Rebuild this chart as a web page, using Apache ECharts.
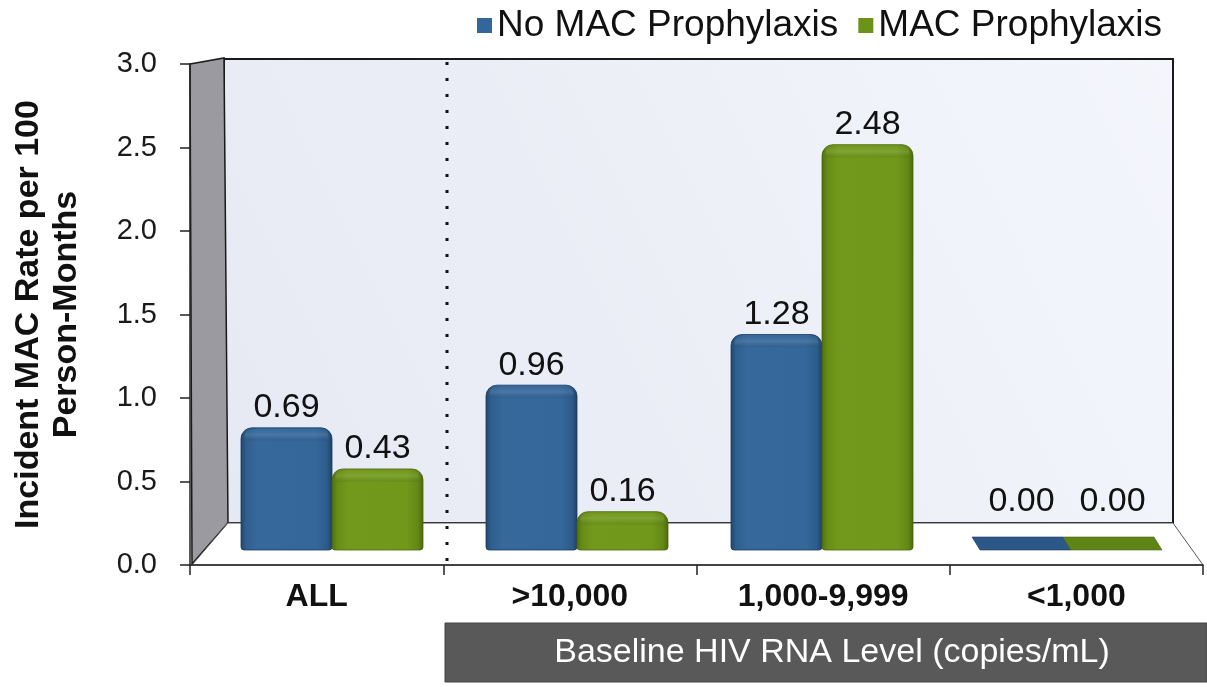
<!DOCTYPE html>
<html>
<head>
<meta charset="utf-8">
<script src="https://cdn.jsdelivr.net/npm/echarts@6/dist/echarts.min.js"></script>
<style>
html,body{margin:0;padding:0;background:#fff;}
#c{width:1207px;height:687px;}
</style>
</head>
<body>
<div id="c"></div>
<script>
const categories = ['ALL', '>10,000', '1,000-9,999', '<1,000'];
const seriesNames = ['No MAC Prophylaxis', 'MAC Prophylaxis'];
const noProphylaxis = [0.69, 0.96, 1.28, 0.00];
const prophylaxis = [0.43, 0.16, 2.48, 0.00];
const yTicks = [0.0, 0.5, 1.0, 1.5, 2.0, 2.5, 3.0];
const yTitle = 'Incident MAC Rate per 100\nPerson-Months';
const bannerText = 'Baseline HIV RNA Level (copies/mL)';

const FONT = '"Liberation Sans", Arial, Helvetica, sans-serif';
const chart = echarts.init(document.getElementById('c'), null, {renderer: 'canvas'});

function lg(x0, y0, x1, y1, stops) {
  return new echarts.graphic.LinearGradient(x0, y0, x1, y1, stops.map(s => ({offset: s[0], color: s[1]})));
}
const looks = [
  { // blue
    side: [[0,'#21456c'],[0.06,'#2f5f8e'],[0.18,'#36689b'],[0.82,'#35679a'],[0.94,'#2d5c8b'],[1,'#1e3f64']],
    slab: '#2c5787', legend: '#33669a', stroke: '#1b3a5e'
  },
  { // green
    side: [[0,'#4f6c0d'],[0.06,'#668c16'],[0.18,'#73991c'],[0.82,'#71981b'],[0.94,'#638915'],[1,'#4b670c']],
    slab: '#5e8416', legend: '#6b9219', stroke: '#4a660c'
  }
];

const BAR_W = 91;     // px width of each bar
const CAP = 8;        // rounded top cap above the value line
const FOOT = 5;       // front face below the floor line

function makeRender(sIdx) {
  return function (params, api) {
    const ci = api.value(0);
    const v = api.value(1);
    const top = api.coord([ci, v]);
    const base = api.coord([ci, 0]);
    const x = sIdx === 0 ? top[0] - BAR_W : top[0];
    const yTop = top[1] - CAP;
    const yBot = base[1] + FOOT;
    const h = yBot - yTop;
    const L = looks[sIdx];
    const children = [];
    if (v > 0) {
      children.push({
        type: 'rect', shape: {x: x, y: yTop, width: BAR_W, height: h, r: [11, 11, 3, 3]},
        style: {fill: lg(0, 0, 1, 0, L.side), stroke: L.stroke, lineWidth: 0.8}
      });
      children.push({
        type: 'rect', shape: {x: x + 3, y: yTop + 1, width: BAR_W - 6, height: 12, r: [9, 9, 0, 0]},
        style: {fill: lg(0, 0, 0, 1, [[0, 'rgba(255,255,255,0.0)'], [0.5, 'rgba(255,255,255,0.10)'], [1, 'rgba(0,0,0,0.06)']])}
      });
    } else {
      // flat slab lying on the floor (seen in perspective)
      children.push({
        type: 'polygon',
        shape: {points: [[x - 4, yTop], [x + BAR_W - 4, yTop], [x + BAR_W + 4, yBot], [x + 4, yBot]]},
        style: {fill: L.slab, stroke: L.stroke, lineWidth: 0.6, lineJoin: 'round'}
      });
    }
    children.push({
      type: 'text', x: x + BAR_W / 2, y: yTop - (v > 0 ? 3 : 18),
      style: {text: v.toFixed(2), fontFamily: FONT, fontSize: 34, fill: '#111', align: 'center', verticalAlign: 'bottom'}
    });
    return {type: 'group', children: children};
  };
}

function seriesData(arr) {
  return categories.map((c, i) => [i, arr[i]]);
}

const option = {
  animation: false,
  backgroundColor: '#ffffff',
  legend: {
    left: 472, top: 2,
    itemWidth: 15, itemHeight: 15, itemGap: 20,
    icon: 'rect',
    textStyle: {fontFamily: FONT, fontSize: 37, color: '#111'},
    data: seriesNames
  },
  grid: [
    {left: 190, right: 4, top: 64, bottom: 122, containLabel: false},
    {left: 209.5, right: 17.5, top: 70.4, bottom: 142, containLabel: false}
  ],
  xAxis: [
    {
      type: 'category', gridIndex: 0, data: categories,
      axisLine: {show: true, lineStyle: {color: '#222', width: 1.5}},
      axisTick: {show: true, length: 10, interval: 0, lineStyle: {color: '#222', width: 1.5}},
      axisLabel: {margin: 16, interval: 0, fontFamily: FONT, fontSize: 32, fontWeight: 'bold', color: '#111'},
      splitLine: {show: false}
    },
    {
      type: 'category', gridIndex: 1, data: categories,
      axisLine: {show: false}, axisTick: {show: false}, axisLabel: {show: false}
    }
  ],
  yAxis: [
    {
      type: 'value', gridIndex: 0, min: 0, max: 3, interval: 0.5,
      name: yTitle, nameLocation: 'middle', nameGap: 104, nameRotate: 90,
      nameTextStyle: {fontFamily: FONT, fontSize: 34, fontWeight: 'bold', color: '#111', lineHeight: 38, align: 'center'},
      axisLine: {show: true, lineStyle: {color: '#222', width: 1.5}},
      axisTick: {show: true, length: 10, lineStyle: {color: '#222', width: 1.5}},
      axisLabel: {margin: 33, fontFamily: FONT, fontSize: 29, color: '#1a1a1a',
        formatter: v => Number(v).toFixed(1)},
      splitLine: {show: false}
    },
    {
      type: 'value', gridIndex: 1, min: 0, max: 3, interval: 0.5,
      axisLine: {show: false}, axisTick: {show: false}, axisLabel: {show: false}, splitLine: {show: false}
    }
  ],
  graphic: [
    {type: 'rect', z: 0, shape: {x: 224, y: 59, width: 949, height: 464},
      style: {fill: lg(0, 1, 1, 0, [[0, '#e6e8f3'], [1, '#f4f6fc']]), stroke: '#1a1a1a', lineWidth: 2}},
    {type: 'polygon', z: 0, shape: {points: [[190,64],[224,58],[228,523],[192,564]]},
      style: {fill: '#9a9aa0', stroke: '#1a1a1a', lineWidth: 1.5}},
    {type: 'polygon', z: 0, shape: {points: [[192,565],[228,523],[1173,523],[1203,565]]},
      style: {fill: '#ffffff', stroke: '#555', lineWidth: 1}},
    {type: 'line', z: 1, shape: {x1: 447, y1: 62, x2: 447, y2: 564},
      style: {stroke: '#111', lineWidth: 3, lineDash: [3, 13]}},
    {type: 'rect', z: 1, shape: {x: 445, y: 623, width: 762, height: 59},
      style: {fill: '#595959', stroke: '#444', lineWidth: 1}},
    {type: 'text', z: 2, x: 832, y: 653,
      style: {text: bannerText, fill: '#ffffff', fontFamily: FONT, fontSize: 34, align: 'center', verticalAlign: 'middle'}}
  ],
  series: [
    {
      name: seriesNames[0], type: 'custom', xAxisIndex: 1, yAxisIndex: 1,
      data: seriesData(noProphylaxis), encode: {x: 0, y: 1},
      renderItem: makeRender(0), itemStyle: {color: looks[0].legend}, z: 3, clip: false
    },
    {
      name: seriesNames[1], type: 'custom', xAxisIndex: 1, yAxisIndex: 1,
      data: seriesData(prophylaxis), encode: {x: 0, y: 1},
      renderItem: makeRender(1), itemStyle: {color: looks[1].legend}, z: 3, clip: false
    }
  ]
};
chart.setOption(option);
</script>
</body>
</html>
